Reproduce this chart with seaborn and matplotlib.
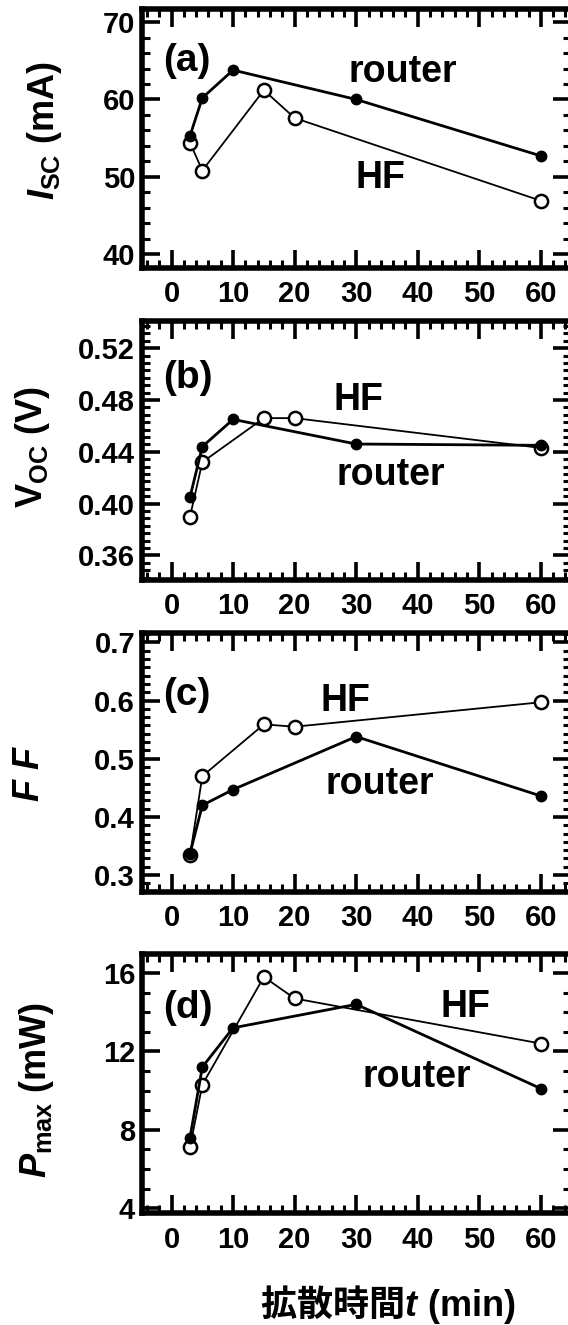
import matplotlib
matplotlib.use("Agg")
import pandas as pd
import matplotlib.pyplot as plt
import seaborn as sns
from matplotlib.ticker import MultipleLocator, AutoMinorLocator

# diffusion time t (min)
t_router = [3, 5, 10, 30, 60]
t_hf = [3, 5, 15, 20, 60]

# (a) short-circuit current (mA)
isc_router = [55.3, 60.2, 63.8, 60.0, 52.7]
isc_hf = [54.4, 50.8, 61.2, 57.6, 46.9]

# (b) open-circuit voltage (V)
voc_router = [0.405, 0.444, 0.465, 0.446, 0.445]
voc_hf = [0.390, 0.432, 0.466, 0.466, 0.443]

# (c) fill factor
ff_router = [0.337, 0.420, 0.447, 0.538, 0.436]
ff_hf = [0.334, 0.470, 0.559, 0.555, 0.597]

# (d) max power (mW)
pmax_router = [7.6, 11.2, 13.2, 14.4, 10.1]
pmax_hf = [7.1, 10.3, 15.8, 14.7, 12.4]

x_ticks = [0, 10, 20, 30, 40, 50, 60]

sns.set_style("ticks")
plt.rcParams.update({
    "font.family": ["Liberation Sans", "Noto Sans CJK JP"],
    "font.weight": "bold",
    "mathtext.fontset": "custom",
    "mathtext.rm": "Liberation Sans",
    "mathtext.it": "Liberation Sans:italic:bold",
    "mathtext.bf": "Liberation Sans:bold",
    "axes.linewidth": 4,
    "axes.edgecolor": "black",
    "text.color": "black",
    "axes.labelcolor": "black",
    "xtick.color": "black",
    "ytick.color": "black",
})

panels = [
    dict(tag="(a)", tag_y=0.80, router=isc_router, hf=isc_hf,
         ylabel=r"$I_{\mathregular{SC}}$ (mA)", ylim=(38.2, 71.7),
         major=10, minor=5, yfmt="{:.0f}",
         router_txt=(37.6, 63.5), hf_txt=(34.0, 49.9), lab=(-0.228, 0.53)),
    dict(tag="(b)", tag_y=0.78, router=voc_router, hf=voc_hf,
         ylabel=r"$\mathbf{V}_{\mathregular{OC}}$ (V)", ylim=(0.341, 0.541),
         major=0.04, minor=7, yfmt="{:.2f}",
         router_txt=(35.6, 0.422), hf_txt=(30.4, 0.480), lab=(-0.255, 0.515)),
    dict(tag="(c)", tag_y=0.76, router=ff_router, hf=ff_hf,
         ylabel=r"$F\ F$", ylim=(0.271, 0.716),
         major=0.1, minor=7, yfmt="{:.1f}",
         router_txt=(33.9, 0.457), hf_txt=(28.3, 0.599), lab=(-0.262, 0.46)),
    dict(tag="(d)", tag_y=0.79, router=pmax_router, hf=pmax_hf,
         ylabel=r"$P_{\mathbf{max}}$ (mW)", ylim=(3.75, 16.97),
         major=4, minor=4, yfmt="{:.0f}",
         router_txt=(39.8, 10.7), hf_txt=(47.8, 14.26), lab=(-0.245, 0.477)),
]

W, H = 568, 1325
fig = plt.figure(figsize=(W / 100, H / 100), dpi=100)

tops = [9, 321, 633, 954]
ax_h = 259
ax_left, ax_w = 142, 429

for top, p in zip(tops, panels):
    ax = fig.add_axes([ax_left / W, 1 - (top + ax_h) / H, ax_w / W, ax_h / H])

    hf_df = pd.DataFrame({"t": t_hf, "v": p["hf"]})
    router_df = pd.DataFrame({"t": t_router, "v": p["router"]})
    sns.lineplot(data=hf_df, x="t", y="v", ax=ax, estimator=None,
                 color="black", linewidth=1.3, marker="o", markersize=9.5,
                 markerfacecolor="white", markeredgecolor="black",
                 markeredgewidth=1.8, zorder=2)
    sns.lineplot(data=router_df, x="t", y="v", ax=ax, estimator=None,
                 color="black", linewidth=2.0, marker="o", markersize=7.5,
                 markerfacecolor="black", markeredgecolor="black",
                 markeredgewidth=1.0, zorder=3)

    ax.set_xlim(-4.8, 64.9)
    ax.set_ylim(*p["ylim"])
    ax.set_xticks(x_ticks)
    ax.xaxis.set_minor_locator(MultipleLocator(2))
    ax.yaxis.set_major_locator(MultipleLocator(p["major"]))
    ax.yaxis.set_minor_locator(AutoMinorLocator(p["minor"]))
    fmt = p["yfmt"]
    ax.yaxis.set_major_formatter(plt.FuncFormatter(lambda v, _, f=fmt: f.format(v)))

    ax.tick_params(which="both", direction="in", top=True, right=True,
                   labelsize=21, colors="black")
    ax.tick_params(which="major", length=13, width=2.6)
    ax.tick_params(which="minor", length=5.5, width=2.2)
    ax.tick_params(axis="x", pad=9)
    ax.tick_params(axis="y", pad=5)
    for lbl in ax.get_xticklabels() + ax.get_yticklabels():
        lbl.set_fontweight("bold")

    ax.set_xlabel("")
    ax.set_ylabel(p["ylabel"], fontsize=26, fontweight="bold", va="center")
    ax.yaxis.set_label_coords(*p["lab"])

    ax.text(0.05, p["tag_y"], p["tag"], transform=ax.transAxes, fontsize=28,
            fontweight="bold", ha="left", va="center")
    ax.text(*p["router_txt"], "router", fontsize=27, fontweight="bold",
            ha="center", va="center")
    ax.text(*p["hf_txt"], "HF", fontsize=27, fontweight="bold",
            ha="center", va="center")

fig.text(388 / W, 1 - 1305 / H, r"拡散時間$t\ \mathbf{(min)}$",
         fontsize=26, fontweight="bold", ha="center", va="center",
         family=["Noto Sans CJK JP"])

fig.savefig("out.png", dpi=100)
